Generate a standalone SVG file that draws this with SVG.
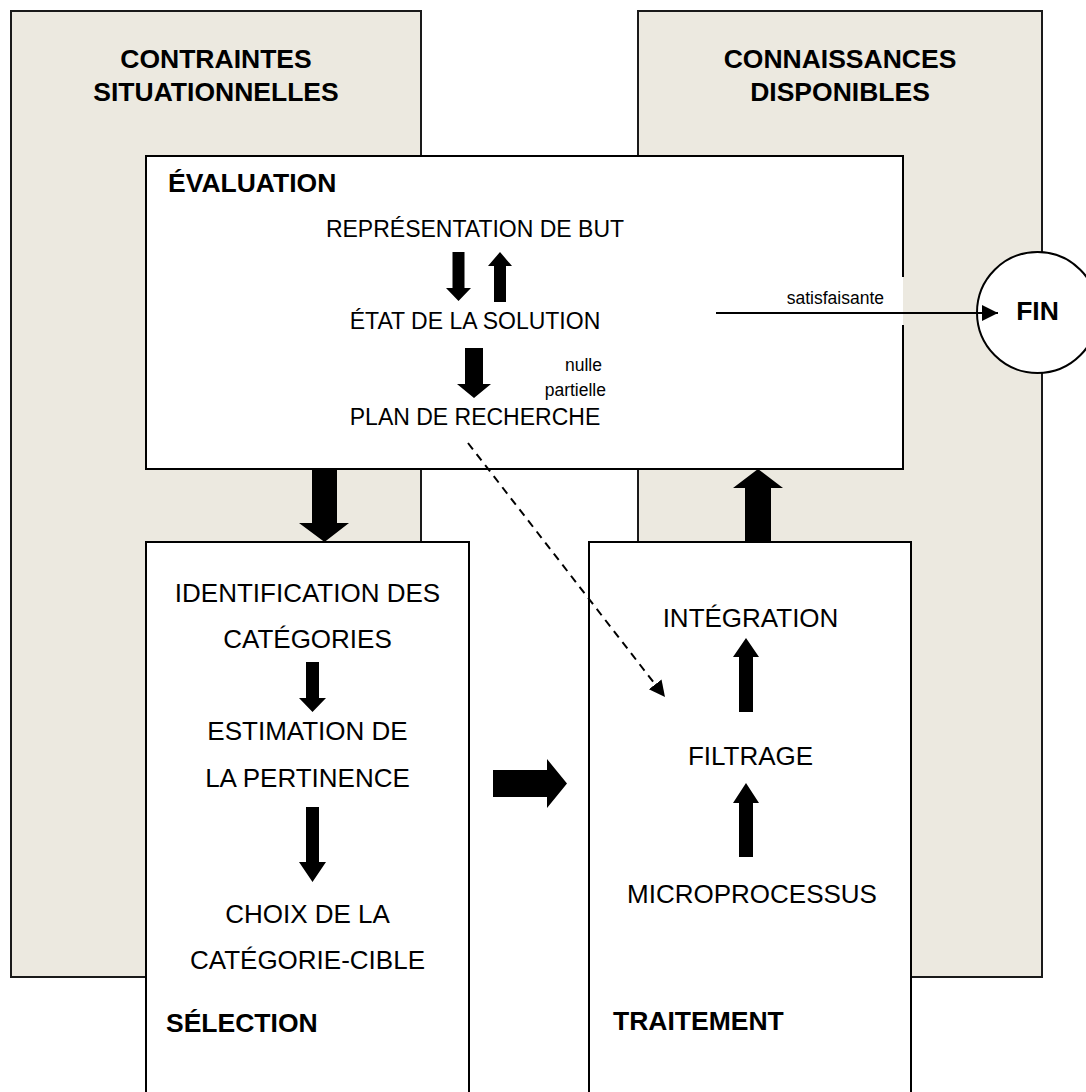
<svg xmlns="http://www.w3.org/2000/svg" width="1086" height="1092" viewBox="0 0 1086 1092">
  <style>
    .zone { fill: #ECE9E0; stroke: #1a1a1a; stroke-width: 2; }
    .box { fill: #ffffff; stroke: #000000; stroke-width: 2; }
    .edge { fill: none; stroke: #000000; stroke-width: 2; }
    .title { font-family: "Liberation Sans", Arial, sans-serif; font-weight: bold; font-size: 26.5px; fill: #000; }
    .item { font-family: "Liberation Sans", Arial, sans-serif; font-size: 26px; fill: #000; text-anchor: middle; }
    .step { font-family: "Liberation Sans", Arial, sans-serif; font-size: 23px; fill: #000; text-anchor: middle; }
    .note { font-family: "Liberation Sans", Arial, sans-serif; font-size: 17.5px; fill: #000; text-anchor: end; }
    .block { fill: #000000; }
  </style>
  <defs>
    <marker id="head" markerUnits="userSpaceOnUse" markerWidth="20" markerHeight="20" refX="16" refY="8" orient="auto">
      <path d="M0,0 L16,8 L0,16 Z" fill="#000"/>
    </marker>
  </defs>

  <rect width="1086" height="1092" fill="#ffffff"/>

  <!-- background zones -->
  <g id="contraintes">
    <rect class="zone" x="11" y="11" width="410" height="966"/>
    <text class="title" x="216" y="68" text-anchor="middle">CONTRAINTES</text>
    <text class="title" x="216" y="101" text-anchor="middle">SITUATIONNELLES</text>
  </g>
  <g id="connaissances">
    <rect class="zone" x="638" y="11" width="404" height="966"/>
    <text class="title" x="840" y="68" text-anchor="middle">CONNAISSANCES</text>
    <text class="title" x="840" y="101" text-anchor="middle">DISPONIBLES</text>
  </g>

  <!-- evaluation block -->
  <g id="evaluation">
    <rect x="146" y="156" width="757" height="313" fill="#ffffff"/>
    <path class="edge" d="M903,277 V156 H146 V469 H903 V325"/>
    <text class="title" x="168" y="192">ÉVALUATION</text>
    <text class="step" x="475" y="237">REPRÉSENTATION DE BUT</text>
    <text class="step" x="475" y="329">ÉTAT DE LA SOLUTION</text>
    <text class="step" x="475" y="425">PLAN DE RECHERCHE</text>
    <text class="note" x="602" y="371">nulle</text>
    <text class="note" x="606" y="396">partielle</text>
    <polygon class="block" points="452.5,252 464.5,252 464.5,288 471,288 458.5,301 446,288 452.5,288"/>
    <polygon class="block" points="494,302 506,302 506,266 512,266 500,252 488,266 494,266"/>
    <polygon class="block" points="465,348 483,348 483,384 491,384 474,398 457,384 465,384"/>
  </g>

  <!-- selection block -->
  <g id="selection">
    <rect class="box" x="146" y="542" width="323" height="560"/>
    <text class="item" x="307.5" y="602">IDENTIFICATION DES</text>
    <text class="item" x="307.5" y="648">CATÉGORIES</text>
    <text class="item" x="307.5" y="740">ESTIMATION DE</text>
    <text class="item" x="307.5" y="787">LA PERTINENCE</text>
    <text class="item" x="307.5" y="923">CHOIX DE LA</text>
    <text class="item" x="307.5" y="969">CATÉGORIE-CIBLE</text>
    <text class="title" x="166" y="1032">SÉLECTION</text>
    <polygon class="block" points="306,662 319,662 319,698 326,698 312.5,712 299,698 306,698"/>
    <polygon class="block" points="306,807 319,807 319,862 326,862 312.5,882 299,862 306,862"/>
  </g>

  <!-- traitement block -->
  <g id="traitement">
    <rect class="box" x="589" y="542" width="322" height="560"/>
    <text class="item" x="750.5" y="627">INTÉGRATION</text>
    <text class="item" x="750.5" y="765">FILTRAGE</text>
    <text class="item" x="752" y="903">MICROPROCESSUS</text>
    <text class="title" x="613" y="1030">TRAITEMENT</text>
    <polygon class="block" points="739,712 753,712 753,657 759,657 746,638 733,657 739,657"/>
    <polygon class="block" points="739,857 753,857 753,803 759,803 746,783 733,803 739,803"/>
  </g>

  <!-- end node -->
  <g id="fin">
    <circle cx="1037.5" cy="312.5" r="60.5" fill="#ffffff" stroke="#000" stroke-width="2"/>
    <text class="title" x="1037.5" y="320" text-anchor="middle">FIN</text>
  </g>

  <!-- connectors -->
  <g id="connectors">
    <polygon class="block" points="312,470 337,470 337,523 349,523 324.5,542 299,523 312,523"/>
    <polygon class="block" points="745,542 771,542 771,488 783,488 758,469 733,488 745,488"/>
    <polygon class="block" points="493,770 547,770 547,759 567,783.5 547,808 547,797 493,797"/>
    <path d="M468,443 L665,697" fill="none" stroke="#000" stroke-width="2" stroke-dasharray="8,6" marker-end="url(#head)"/>
    <path d="M716,313 L998,313" fill="none" stroke="#000" stroke-width="2" marker-end="url(#head)"/>
    <text class="note" x="884" y="304" font-size="17">satisfaisante</text>
  </g>
</svg>
